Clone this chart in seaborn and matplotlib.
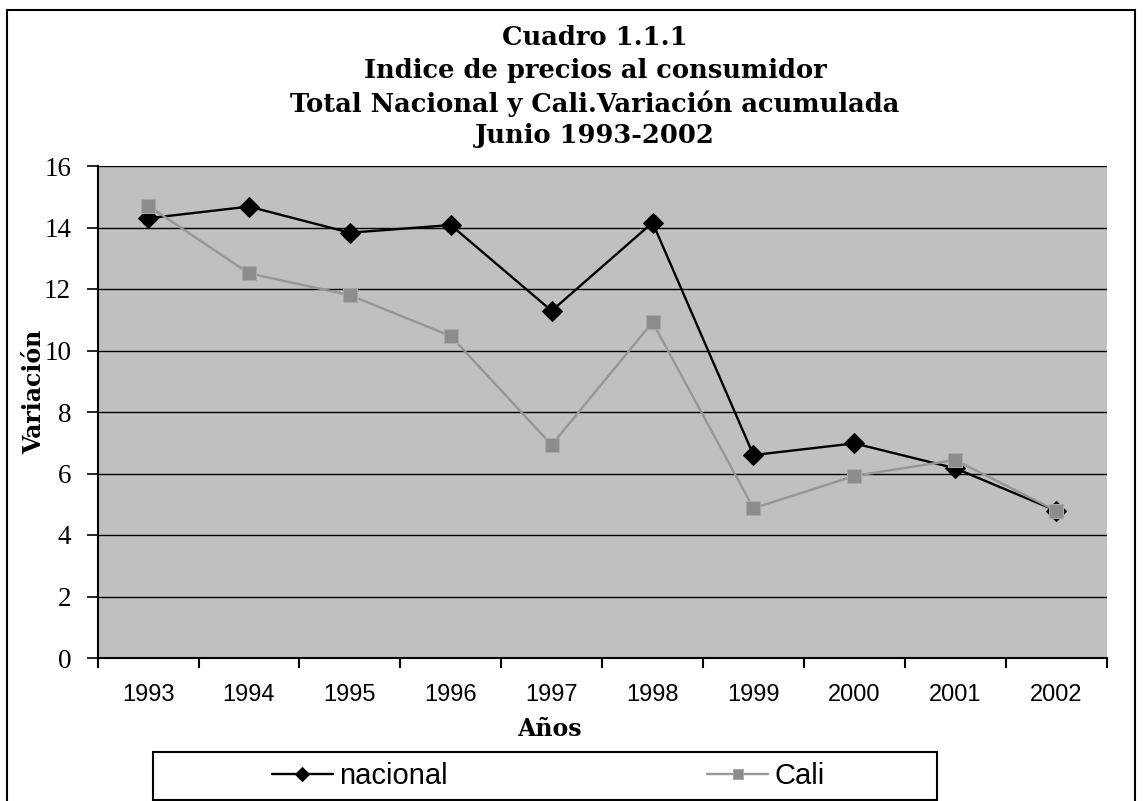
import numpy as np
import pandas as pd
import seaborn as sns
import matplotlib.pyplot as plt
from matplotlib.patches import Rectangle
from matplotlib.ticker import FixedLocator, NullFormatter

years = ['1993', '1994', '1995', '1996', '1997', '1998', '1999', '2000', '2001', '2002']
nacional = [14.30, 14.68, 13.83, 14.08, 11.29, 14.16, 6.60, 6.98, 6.17, 4.79]
cali = [14.71, 12.51, 11.80, 10.47, 6.93, 10.92, 4.87, 5.92, 6.44, 4.79]

df = pd.DataFrame({'pos': np.arange(len(years)), 'nacional': nacional, 'Cali': cali})

sns.set_style('white')
plt.rcParams['font.family'] = ['Liberation Sans', 'DejaVu Sans']
plt.rcParams['text.color'] = 'black'
plt.rcParams['xtick.color'] = 'black'
plt.rcParams['ytick.color'] = 'black'
plt.rcParams['axes.labelcolor'] = 'black'

W, H = 1143, 801
fig = plt.figure(figsize=(W / 100, H / 100), dpi=100)
ax = fig.add_axes([97.6 / W, 1 - 658 / H, 1009 / W, (658 - 166) / H])
ax.set_facecolor('#C0C0C0')

sns.lineplot(data=df, x='pos', y='nacional', ax=ax, color='black', linewidth=1.7,
             marker='D', markersize=10, markerfacecolor='black', markeredgecolor='black',
             label='nacional')
sns.lineplot(data=df, x='pos', y='Cali', ax=ax, color='#969696', linewidth=1.7,
             marker='s', markersize=10, markerfacecolor='#8c8c8c', markeredgecolor='#a8a8a8',
             label='Cali')

ax.set_xlim(-0.5, len(years) - 0.5)
ax.set_ylim(0, 16)
ax.set_yticks(np.arange(0, 17, 2))
ax.yaxis.grid(True, color='black', linewidth=1.0)
ax.set_axisbelow(True)

ax.set_xticks(np.arange(len(years)))
ax.set_xticklabels(years, fontsize=17)
ax.tick_params(axis='x', which='major', length=0, pad=19)
ax.xaxis.set_minor_locator(FixedLocator(np.arange(-0.5, len(years), 1)))
ax.xaxis.set_minor_formatter(NullFormatter())
ax.tick_params(axis='x', which='minor', length=7, width=1.5, color='black', direction='out', bottom=True)
ax.tick_params(axis='y', length=8, width=1.2, color='black', direction='out', pad=11, left=True)
for lab in ax.get_yticklabels():
    lab.set_family('Liberation Serif')
    lab.set_fontsize(19.5)

for side in ['top', 'right']:
    ax.spines[side].set_visible(False)
for side in ['left', 'bottom']:
    ax.spines[side].set_color('black')
    ax.spines[side].set_linewidth(1.5)

ax.set_xlabel('')
ax.set_ylabel('')
fig.text(549 / W, 1 - 729 / H, 'Años', family='DejaVu Serif', fontweight='bold',
         fontsize=17, ha='center', va='center')
fig.text(34 / W, 1 - 392 / H, 'Variación', family='DejaVu Serif', fontweight='bold',
         fontsize=17, ha='center', va='center', rotation=90)

titles = ['Cuadro 1.1.1', 'Indice de precios al consumidor',
          'Total Nacional y Cali.Variación acumulada', 'Junio 1993-2002']
baselines = [45, 78, 112, 143]
for t, b in zip(titles, baselines):
    fig.text(595 / W, 1 - b / H, t, family='DejaVu Serif', fontweight='bold',
             fontsize=18.5, ha='center', va='baseline')

ax.get_legend().remove()
handles, labels = ax.get_legend_handles_labels()
leg = fig.legend(handles, labels, ncol=2, loc='center',
                 bbox_to_anchor=(548 / W, 1 - 776 / H), fontsize=21,
                 handlelength=2.1, handletextpad=0.2, columnspacing=8.9,
                 frameon=False, markerscale=0.7, borderaxespad=0)

fig.patches.append(Rectangle((153 / W, 1 - 800 / H), (937 - 153) / W, 48 / H,
                             transform=fig.transFigure, fill=False, edgecolor='black',
                             linewidth=1.5))
fig.patches.append(Rectangle((7 / W, -0.02), (1135 - 7) / W, 1.02 - 10 / H,
                             transform=fig.transFigure, fill=False, edgecolor='black',
                             linewidth=1.5))

fig.savefig('out.png', dpi=100)
